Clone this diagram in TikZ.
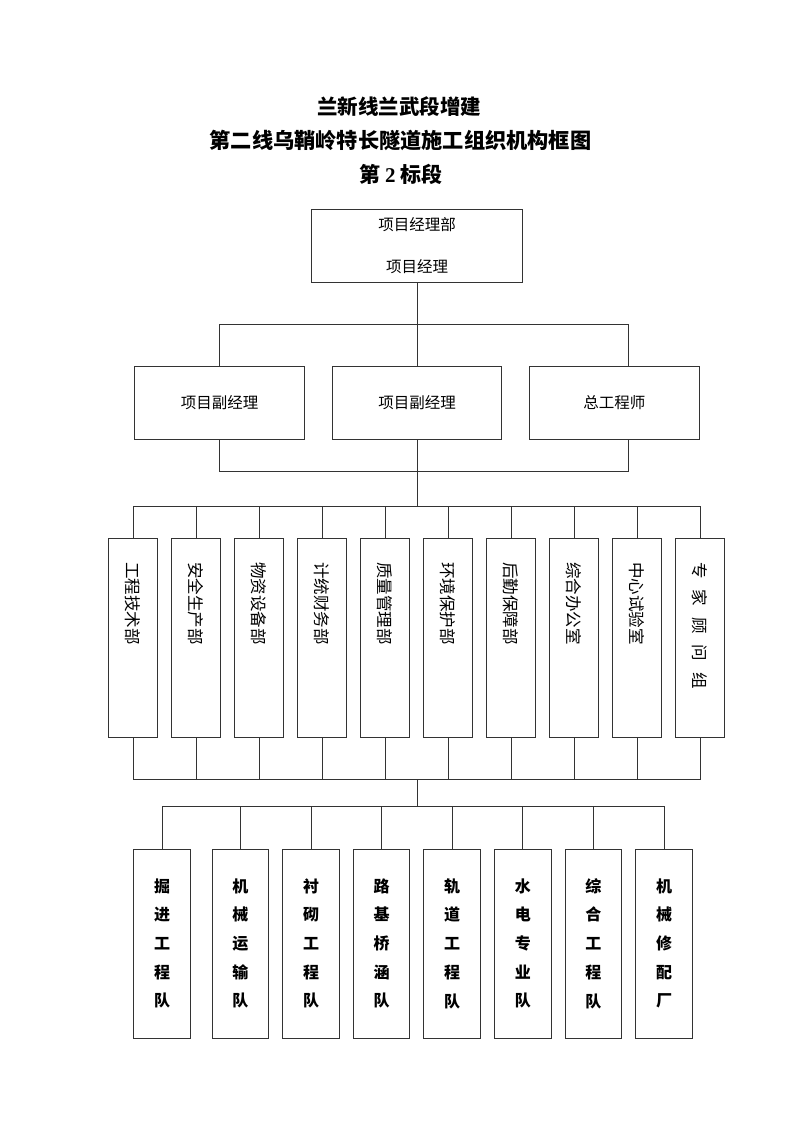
\documentclass[tikz,border=0pt]{standalone}
\usepackage{fontspec}
\setmainfont{Liberation Serif}
\newfontfamily\cjk{Noto Sans CJK SC}
\usepackage{tikz}

\begin{document}
\begin{tikzpicture}[x=1pt, y=-1pt, line width=1pt,
		titletext/.style={font=\cjk\bfseries\fontsize{#1}{#1}\selectfont},
		box/.style={draw=black!80, inner sep=0pt, font=\cjk\fontsize{15.5}{18}\selectfont},
		headbox/.style={box, minimum width=211pt, minimum height=73pt, align=center, font=\cjk\fontsize{15.5}{41.7}\selectfont},
		leadbox/.style={box, minimum width=169.5pt, minimum height=73.5pt},
		deptbox/.style={box, rotate=-90, minimum width=199.3pt, minimum height=49.5pt, text width=151pt, inner xsep=24pt, align=left, font=\cjk\fontsize{16.5}{18}\selectfont},
		teambox/.style={box, minimum width=56.7pt, minimum height=189pt, align=center, font=\cjk\bfseries\fontsize{16}{28.7}\selectfont},
		link/.style={draw=black!80}]
				\useasboundingbox (0,0) rectangle (800,1132);
				% title
				\node[titletext=20.5] (title1) at (399.2,107) {兰新线兰武段增建};
				\node[titletext=21.2] (title2) at (400.5,140) {第二线乌鞘岭特长隧道施工组织机构框图};
				\node[titletext=21] (title3) at (400.9,174) {第 {\rmfamily 2} 标段};
				% project management
				\node[headbox] (pm) at (417,245.8) {项目经理部\\项目经理};
				\node[leadbox] (vp1) at (219.5,402.8) {项目副经理};
				\node[leadbox] (vp2) at (417,402.8) {项目副经理};
				\node[leadbox] (chief) at (614.3,402.8) {总工程师};
				% departments
				\node[deptbox] (eng) at (133,637.7) {工程技术部};
				\node[deptbox] (safe) at (196,637.7) {安全生产部};
				\node[deptbox] (mat) at (259,637.7) {物资设备部};
				\node[deptbox] (fin) at (322,637.7) {计统财务部};
				\node[deptbox] (qual) at (385,637.7) {质量管理部};
				\node[deptbox] (env) at (448,637.7) {环境保护部};
				\node[deptbox] (log) at (511,637.7) {后勤保障部};
				\node[deptbox] (off) at (574,637.7) {综合办公室};
				\node[deptbox] (lab) at (637,637.7) {中心试验室};
				\node[deptbox] (exp) at (700,637.7) {专\hspace{11pt}家\hspace{11pt}顾\hspace{11pt}问\hspace{11pt}组};
				% work teams
				\node[teambox] (dig) at (162,943.5) {掘\\进\\工\\程\\队};
				\node[teambox] (haul) at (240.4,943.5) {机\\械\\运\\输\\队};
				\node[teambox] (lining) at (311,943.5) {衬\\砌\\工\\程\\队};
				\node[teambox] (road) at (381.6,943.5) {路\\基\\桥\\涵\\队};
				\node[teambox] (track) at (452.2,943.5) {轨\\道\\工\\程\\队};
				\node[teambox] (power) at (522.8,943.5) {水\\电\\专\\业\\队};
				\node[teambox] (general) at (593.4,943.5) {综\\合\\工\\程\\队};
				\node[teambox] (repair) at (664,943.5) {机\\械\\修\\配\\厂};
				% connectors
				\coordinate (leadT) at (628.7,324.7);
				\coordinate (leadB) at (628.7,471);
				\coordinate (deptT) at (417,506);
				\coordinate (deptB) at (417,779);
				\coordinate (teamT) at (417,806.7);
				\draw[link] (pm) -- (vp2);
				\draw[link] (vp1.north) |- (leadT) -- (chief.north -| leadT);
				\draw[link] (vp1.south) |- (leadB) -- (chief.south -| leadB);
				\draw[link] (vp2.south) -- (deptT);
				\draw[link] (eng.west) |- (exp.west |- deptT) -- (exp.west)
					(safe.west) -- (safe.west |- deptT) (mat.west) -- (mat.west |- deptT)
					(fin.west) -- (fin.west |- deptT) (qual.west) -- (qual.west |- deptT)
					(env.west) -- (env.west |- deptT) (log.west) -- (log.west |- deptT)
					(off.west) -- (off.west |- deptT) (lab.west) -- (lab.west |- deptT);
				\draw[link] (eng.east) |- (exp.east |- deptB) -- (exp.east)
					(safe.east) -- (safe.east |- deptB) (mat.east) -- (mat.east |- deptB)
					(fin.east) -- (fin.east |- deptB) (qual.east) -- (qual.east |- deptB)
					(env.east) -- (env.east |- deptB) (log.east) -- (log.east |- deptB)
					(off.east) -- (off.east |- deptB) (lab.east) -- (lab.east |- deptB);
				\draw[link] (deptB) -- (teamT);
				\draw[link] (dig.north) |- (repair.north |- teamT) -- (repair.north)
					(haul.north) -- (haul.north |- teamT) (lining.north) -- (lining.north |- teamT)
					(road.north) -- (road.north |- teamT) (track.north) -- (track.north |- teamT)
					(power.north) -- (power.north |- teamT) (general.north) -- (general.north |- teamT);
			\end{tikzpicture}
\end{document}
